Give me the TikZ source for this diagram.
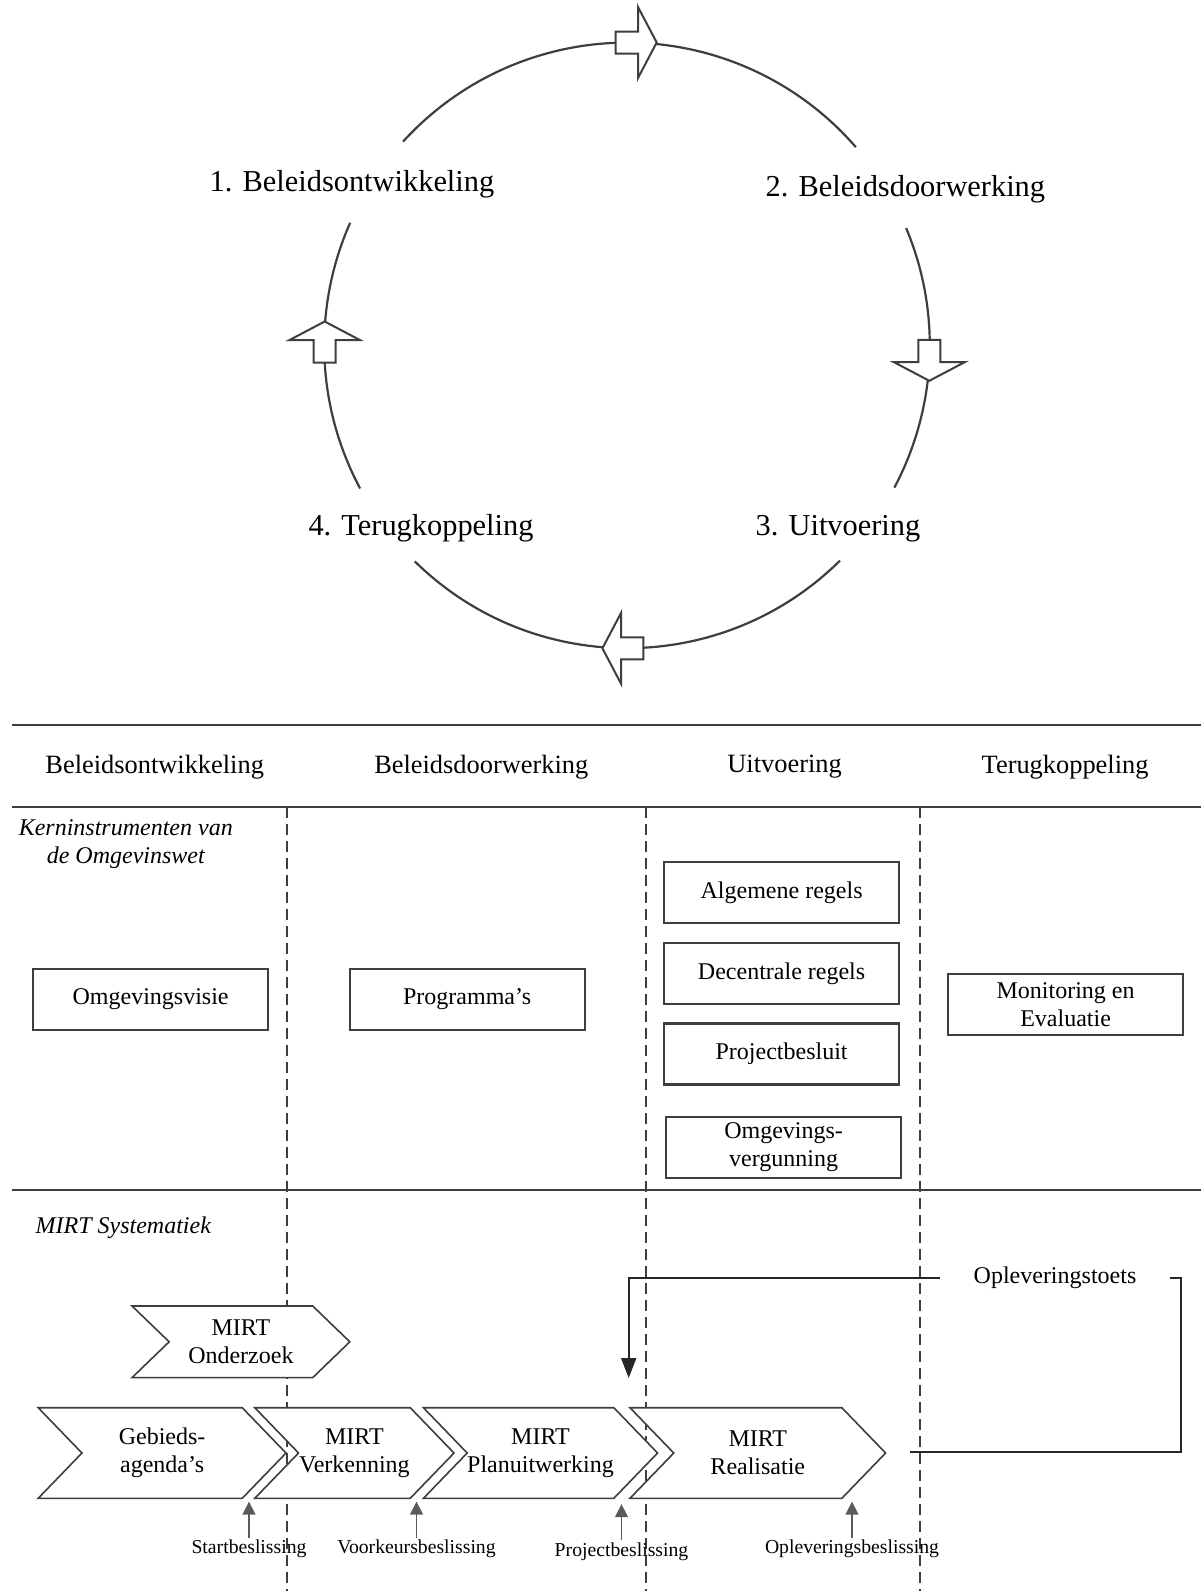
\documentclass[tikz,border=0pt]{standalone}
\usepackage{fontspec}
\setmainfont{Liberation Serif}
\usetikzlibrary{shapes.symbols,arrows.meta}

\definecolor{linegray}{RGB}{62,62,62}

\tikzset{
	cyc/.style={draw=linegray,line width=1.1pt},
	cyclbl/.style={font=\fontsize{15.2}{18}\selectfont},
	blockarr/.pic={\draw[linegray,line width=1pt,fill=white,line join=miter]
		(-20.5,-11)--(1.8,-11)--(1.8,-35.5)--(20.5,0)--(1.8,35.5)--(1.8,11)--(-20.5,11)--cycle;},
	tabline/.style={draw=linegray,line width=1.2pt},
	colsep/.style={draw=linegray,line width=0.7pt,dash pattern=on 5.5pt off 3pt},
	head/.style={font=\fontsize{13.2}{16}\selectfont},
	sect/.style={font=\fontsize{12}{14.2}\selectfont\itshape,align=center},
	instr/.style={draw=linegray,line width=1.1pt,fill=white,minimum width=117.5pt,
		minimum height=30.5pt,inner sep=1pt,align=center,font=\fontsize{12}{13.8}\selectfont},
	fase/.style={signal,signal from=west,signal to=east,signal pointer angle=92,
		draw=linegray,line width=0.8pt,fill=white,minimum height=45.3pt,inner sep=0pt,
		align=center,font=\fontsize{12}{14.2}\selectfont},
	besl/.style={font=\fontsize{9.85}{12}\selectfont,inner sep=1pt},
	decarr/.style={draw=linegray!85,line width=0.8pt,-{Triangle[width=6.5pt,length=6.5pt]}},
	fbline/.style={draw=black!85,line width=1pt},
}

\begin{document}
\begin{tikzpicture}[x=0.5pt,y=-0.5pt]
	\useasboundingbox (0,0) rectangle (1201,1591);

	% beleidscyclus
	\coordinate (c) at (627,345.4);
	\draw[cyc] (c) ++(-40.9:302.8) arc[start angle=-40.9,end angle=-137.7,radius=302.8];	%1--2
	\draw[cyc] (c) ++(-22.8:302.8) arc[start angle=-22.8,end angle=28,radius=302.8];		%2--3
	\draw[cyc] (c) ++(45.3:302.8) arc[start angle=45.3,end angle=134.5,radius=302.8];		%3--4
	\draw[cyc] (c) ++(-156.1:302.8) arc[start angle=-156.1,end angle=-208.2,radius=302.8];	%4--1

	\pic at (636.2,42.5) {blockarr};
	\pic[rotate=-90] at (929.3,360.3) {blockarr};
	\pic[rotate=180] at (622.9,648.3) {blockarr};
	\pic[rotate=90] at (324.7,342) {blockarr};

	\node[cyclbl] (bo) at (352,184) {1. Beleidsontwikkeling};
	\node[cyclbl] (bd) at (905.4,189) {2. Beleidsdoorwerking};
	\node[cyclbl] (uv) at (838,528.5) {3. Uitvoering};
	\node[cyclbl] (tk) at (421,528.5) {4. Terugkoppeling};

	% tabel
	\draw[tabline] (12,725) -- (1201,725);
	\draw[tabline] (12,806.7) -- (1201,806.7);
	\draw[tabline] (12,1190) -- (1201,1190);
	\foreach \x in {287,646,920}
		\draw[colsep] (\x,807) -- (\x,1591);

	\node[head] (hbo) at (154.7,767) {Beleidsontwikkeling};
	\node[head] (hbd) at (481.3,767) {Beleidsdoorwerking};
	\node[head] (huv) at (784.6,767) {Uitvoering};
	\node[head] (htk) at (1065.1,767) {Terugkoppeling};

	\node[sect] (kern) at (125.8,844) {Kerninstrumenten van\\de Omgevinswet};
	\node[instr] (visie) at (150.6,999.2) {Omgevingsvisie};
	\node[instr] (progr) at (467.1,999.2) {Programma’s};
	\node[instr] (algem) at (781.6,892.7) {Algemene regels};
	\node[instr] (decen) at (781.6,973.3) {Decentrale regels};
	\node[instr] (projb) at (781.6,1054) {Projectbesluit};
	\node[instr] (vergun) at (783.6,1147.3) {Omgevings-\\vergunning};
	\node[instr] (monit) at (1065.6,1004.8) {Monitoring en\\Evaluatie};

	% MIRT
	\node[sect] (mirt) at (123.3,1228) {MIRT Systematiek};
	\node[fase,minimum width=108.9pt,minimum height=35.85pt,signal pointer angle=88] (ondz) at (240.9,1341.8) {MIRT\\Onderzoek};
	\node[fase,minimum width=123.9pt] (gebied) at (162.1,1453) {Gebieds-\\agenda’s};
	\node[fase,minimum width=99.6pt] (verk) at (354.4,1453) {MIRT\\Verkenning};
	\node[fase,minimum width=116.5pt] (plan) at (540.5,1453) {MIRT\\Planuitwerking};
	\node[fase,minimum width=127.8pt] (real) at (757.8,1453) {MIRT\\Realisatie};

	\node[besl] (sb) at (249,1549) {Startbeslissing};
	\node[besl] (vb) at (416.5,1549) {Voorkeursbeslissing};
	\node[besl] (pb) at (621.5,1551.5) {Projectbeslissing};
	\node[besl] (ob) at (852,1549) {Opleveringsbeslissing};
	\foreach \b in {sb,vb,pb,ob}
		\draw[decarr] (\b.north) -- ++(0,-36);

	% opleveringstoets
	\node[inner xsep=16.7pt,font=\fontsize{12}{14}\selectfont] (toets) at (1055,1278) {Opleveringstoets};
	\coordinate (fbstart) at (909.7,1452);
	\coordinate (fbturn) at (1180.7,1452);
	\coordinate (fbend) at (628.7,1378);
	\draw[fbline] (fbstart) -- (fbturn) |- (toets.east);					%realisatie--toets
	\draw[fbline,-{Triangle[width=7.5pt,length=10pt]}] (toets.west) -| (fbend);	%toets--planuitwerking
\end{tikzpicture}
\end{document}
